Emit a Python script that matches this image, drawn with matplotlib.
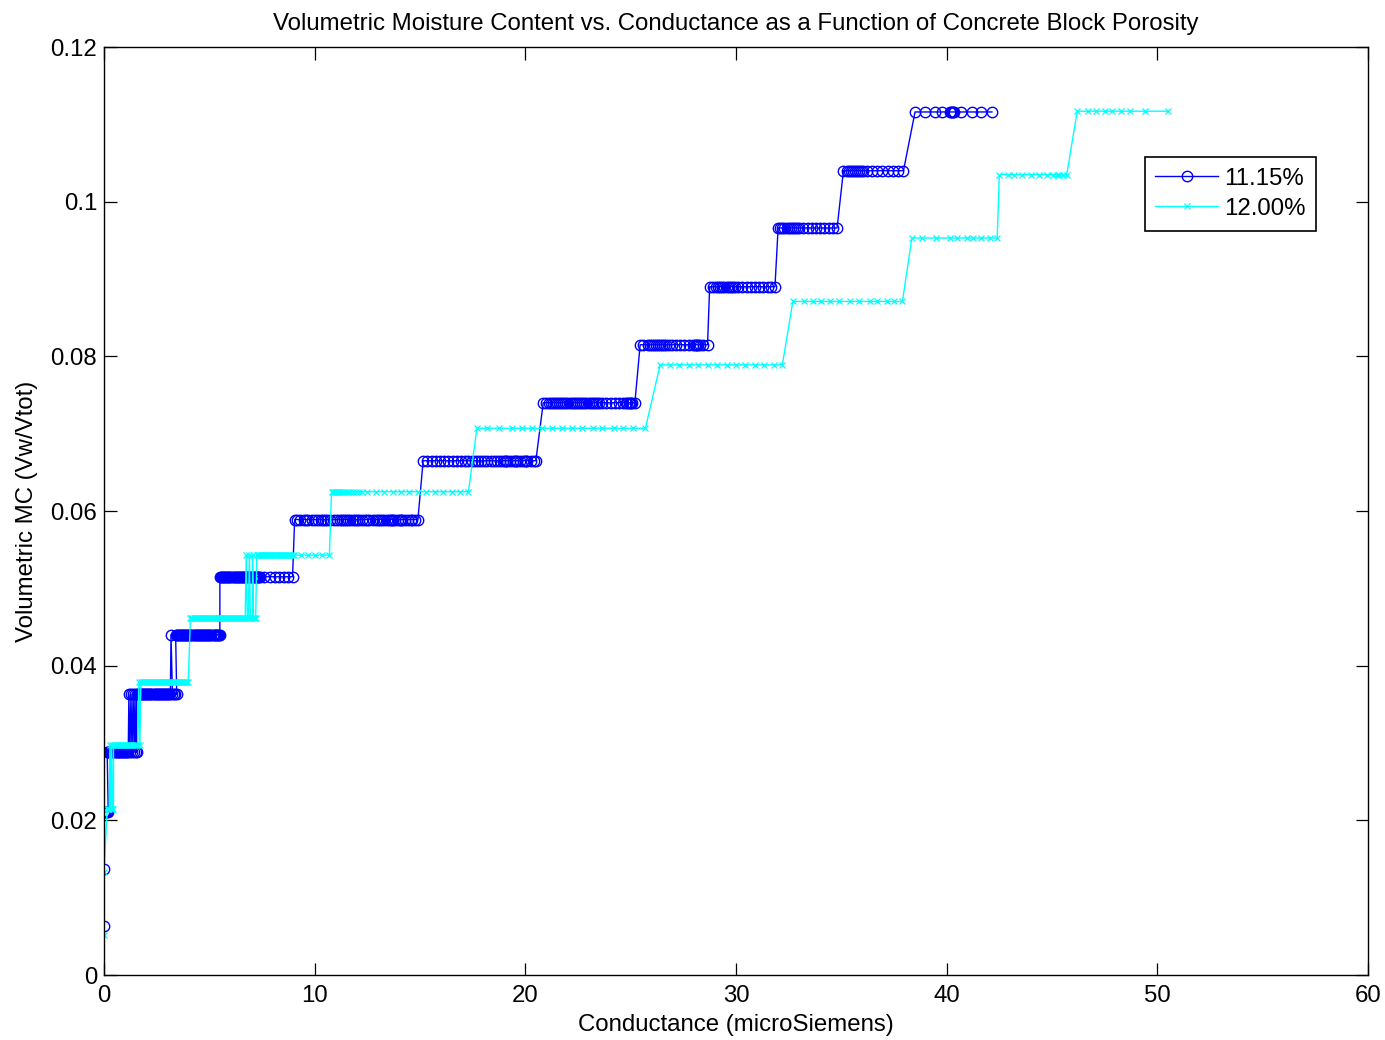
import matplotlib
matplotlib.use("Agg")
import matplotlib.pyplot as plt

plt.rcParams['font.family'] = ['Liberation Sans', 'DejaVu Sans']

# Each run is (moisture level, conductance readings taken at that level), in recording order
block_1115 = [
    (0.0063, [0.0]),
    (0.0137, [0.0]),
    (0.0211, [0.0, 0.05, 0.1, 0.15, 0.2]),
    (0.0288, [0.15, 0.2, 0.25, 0.3, 0.35, 0.4, 0.45, 0.5, 0.55, 0.6, 0.65, 0.7, 0.75,
              0.8, 0.85, 0.9, 0.95, 1.0, 1.05, 1.1, 1.15]),
    (0.0363, [1.18]), (0.0288, [1.23]), (0.0363, [1.28]), (0.0288, [1.33]),
    (0.0363, [1.38]), (0.0288, [1.43]), (0.0363, [1.47]), (0.0288, [1.51, 1.55]),
    (0.0363, [1.55, 1.6, 1.65, 1.7, 1.75, 1.8, 1.85, 1.9, 1.95, 2.0, 2.05, 2.1, 2.15,
              2.2, 2.25, 2.3, 2.35, 2.4, 2.45, 2.5, 2.55, 2.6, 2.65, 2.7, 2.75, 2.8,
              2.85, 2.9, 2.95, 3.0, 3.05, 3.1, 3.15]),
    (0.0440, [3.18]),
    (0.0363, [3.25, 3.3, 3.38, 3.45]),
    (0.0440, [3.4, 3.45, 3.5, 3.55, 3.6, 3.65, 3.7, 3.75, 3.8, 3.85, 3.9, 3.95, 4.0,
              4.05, 4.1, 4.15, 4.2, 4.25, 4.3, 4.35, 4.4, 4.45, 4.5, 4.55, 4.6, 4.65,
              4.7, 4.75, 4.8, 4.85, 4.9, 4.95, 5.0, 5.05, 5.1, 5.15, 5.2, 5.25, 5.3,
              5.35, 5.4, 5.45, 5.5]),
    (0.0515, [5.5, 5.55, 5.6, 5.65, 5.7, 5.75, 5.8, 5.85, 5.9, 5.95, 6.0, 6.05, 6.1,
              6.15, 6.2, 6.25, 6.3, 6.35, 6.4, 6.45, 6.5, 6.55, 6.6, 6.65, 6.7, 6.75,
              6.8, 6.85, 6.9, 6.95, 7.0, 7.05, 7.1, 7.15, 7.2, 7.25, 7.3, 7.35, 7.4,
              7.6, 7.9, 8.1, 8.3, 8.55, 8.75, 8.95]),
    (0.0589, [9.05, 9.15, 9.3, 9.5, 9.6, 9.7, 9.85, 10.0, 10.15, 10.3, 10.4, 10.5,
              10.6, 10.75, 10.9, 11.05, 11.2, 11.3, 11.4, 11.5, 11.6, 11.7, 11.8, 11.9,
              12.0, 12.1, 12.25, 12.4, 12.5, 12.6, 12.75, 12.9, 13.0, 13.1, 13.2, 13.3,
              13.45, 13.55, 13.6, 13.65, 13.7, 13.8, 13.95, 14.05, 14.1, 14.15, 14.3,
              14.45, 14.55, 14.6, 14.75, 14.9]),
    (0.0665, [15.15, 15.35, 15.55, 15.75, 15.95, 16.15, 16.35, 16.55, 16.75, 16.95,
              17.15, 17.3, 17.45, 17.6, 17.75, 17.9, 18.05, 18.2, 18.35, 18.5, 18.65,
              18.8, 18.95, 19.05, 19.1, 19.15, 19.25, 19.4, 19.5, 19.55, 19.6, 19.75,
              19.9, 20.0, 20.05, 20.1, 20.25, 20.4, 20.5]),
    (0.0740, [20.85, 21.0, 21.1, 21.2, 21.3, 21.4, 21.5, 21.6, 21.7, 21.8, 21.9, 22.0,
              22.1, 22.2, 22.3, 22.4, 22.5, 22.6, 22.7, 22.8, 22.9, 23.0, 23.1, 23.2,
              23.3, 23.4, 23.5, 23.65, 23.85, 24.05, 24.25, 24.45, 24.65, 24.8, 24.85,
              24.9, 24.95, 25.0, 25.05, 25.2]),
    (0.0815, [25.45, 25.6, 25.8, 25.9, 26.0, 26.1, 26.2, 26.3, 26.4, 26.5, 26.6, 26.7,
              26.8, 26.95, 27.15, 27.35, 27.55, 27.75, 27.95, 28.05, 28.1, 28.15, 28.2,
              28.3, 28.45, 28.65]),
    (0.0890, [28.75, 28.9, 29.05, 29.15, 29.25, 29.35, 29.45, 29.55, 29.65, 29.75,
              29.85, 29.95, 30.1, 30.3, 30.5, 30.7, 30.9, 31.1, 31.3, 31.5, 31.65, 31.85]),
    (0.0966, [32.0, 32.1, 32.2, 32.3, 32.4, 32.5, 32.6, 32.7, 32.8, 32.9, 33.0, 33.2,
              33.4, 33.6, 33.8, 34.0, 34.2, 34.4, 34.6, 34.8]),
    (0.1040, [35.1, 35.25, 35.35, 35.45, 35.55, 35.65, 35.75, 35.85, 35.95, 36.05,
              36.2, 36.45, 36.7, 36.95, 37.2, 37.45, 37.7, 37.95]),
    (0.1116, [38.5, 38.95, 39.45, 39.8, 40.15, 40.2, 40.25, 40.3, 40.35, 40.7, 41.2,
              41.65, 42.15]),
]

block_1200 = [
    (0.0052, [0.0]),
    (0.0133, [0.0]),
    (0.0215, [0.15, 0.2, 0.25]),
    (0.0297, [0.28]), (0.0215, [0.32]), (0.0297, [0.36]), (0.0215, [0.4, 0.45]),
    (0.0297, [0.45, 0.5, 0.55, 0.6, 0.65, 0.7, 0.75, 0.8, 0.85, 0.9, 0.95, 1.0, 1.05,
              1.1, 1.15, 1.2, 1.25, 1.3, 1.35, 1.4, 1.45, 1.5, 1.55, 1.6]),
    (0.0379, [1.65]), (0.0297, [1.7]),
    (0.0379, [1.75, 1.8, 1.85, 1.9, 1.95, 2.0, 2.05, 2.1, 2.15, 2.2, 2.25, 2.3, 2.35,
              2.4, 2.45, 2.5, 2.55, 2.6, 2.65, 2.7, 2.75, 2.8, 2.85, 2.9, 2.95, 3.0,
              3.05, 3.1, 3.15, 3.2, 3.25, 3.3, 3.35, 3.4, 3.45, 3.5, 3.55, 3.6, 3.65,
              3.7, 3.75, 3.8, 3.85, 3.9, 3.95, 4.0]),
    (0.0461, [4.1, 4.15, 4.2, 4.25, 4.3, 4.35, 4.4, 4.45, 4.5, 4.55, 4.6, 4.65, 4.7,
              4.75, 4.8, 4.85, 4.9, 4.95, 5.0, 5.05, 5.1, 5.15, 5.2, 5.25, 5.3, 5.35,
              5.4, 5.45, 5.5, 5.55, 5.6, 5.65, 5.7, 5.75, 5.8, 5.85, 5.9, 5.95, 6.0,
              6.05, 6.1, 6.15, 6.2, 6.25, 6.3, 6.35, 6.4, 6.45, 6.5, 6.55, 6.6, 6.65,
              6.7]),
    (0.0543, [6.75]), (0.0461, [6.8, 6.85]), (0.0543, [6.9]),
    (0.0461, [6.95, 7.0, 7.05]), (0.0543, [7.05]), (0.0461, [7.1, 7.15, 7.2]),
    (0.0543, [7.25, 7.3, 7.35, 7.4, 7.45, 7.5, 7.55, 7.6, 7.65, 7.7, 7.75, 7.8, 7.85,
              7.9, 7.95, 8.0, 8.05, 8.1, 8.15, 8.2, 8.25, 8.3, 8.35, 8.4, 8.45, 8.5,
              8.55, 8.6, 8.65, 8.7, 8.75, 8.8, 8.85, 8.9, 8.95, 9.0, 9.35, 9.7, 10.0,
              10.35, 10.7]),
    (0.0625, [10.8, 10.85, 10.9, 10.95, 11.0, 11.05, 11.1, 11.15, 11.2, 11.3, 11.4,
              11.5, 11.6, 11.7, 11.8, 11.95, 12.1, 12.25, 12.5, 12.9, 13.3, 13.7, 14.1,
              14.5, 14.9, 15.3, 15.7, 16.1, 16.5, 16.9, 17.3]),
    (0.0707, [17.7, 18.2, 18.75, 19.35, 19.85, 20.3, 20.8, 21.25, 21.75, 22.2, 22.7,
              23.2, 23.65, 24.2, 24.65, 25.1, 25.7]),
    (0.0789, [26.4, 26.85, 27.3, 27.75, 28.2, 28.65, 29.1, 29.55, 30.0, 30.45, 30.9,
              31.35, 31.8, 32.2]),
    (0.0871, [32.7, 33.25, 33.65, 34.05, 34.45, 34.9, 35.4, 35.85, 36.35, 36.7, 37.15,
              37.5, 37.9]),
    (0.0953, [38.35, 38.85, 39.5, 40.15, 40.5, 40.95, 41.25, 41.65, 42.05, 42.4]),
    (0.1035, [42.5, 42.9, 43.2, 43.6, 44.0, 44.4, 44.75, 45.05, 45.25, 45.35, 45.5,
              45.7]),
    (0.1117, [46.2, 46.7, 47.1, 47.5, 47.85, 48.3, 48.7, 49.4, 50.5]),
]

series_labels = ['11.15%', '12.00%']


def flatten(runs):
    xs, ys = [], []
    for level, readings in runs:
        xs.extend(readings)
        ys.extend([level] * len(readings))
    return xs, ys


x1, y1 = flatten(block_1115)
x2, y2 = flatten(block_1200)

fs = 17.3

fig = plt.figure(figsize=(13.85, 10.4), dpi=100)
ax = fig.add_axes([0.0751, 0.0625, 0.9126, 0.8923])

ax.plot(x1, y1, color='#0000ff', lw=1.0, marker='o', ms=7.5, mfc='none',
        mew=1.0, label=series_labels[0])
ax.plot(x2, y2, color='#00ffff', lw=1.0, marker='x', ms=5, mew=0.9,
        label=series_labels[1])

ax.set_xlim(0, 60)
ax.set_ylim(0, 0.12)
ax.set_xticks([0, 10, 20, 30, 40, 50, 60])
ax.set_yticks([0, 0.02, 0.04, 0.06, 0.08, 0.1, 0.12])
ax.set_yticklabels(['0', '0.02', '0.04', '0.06', '0.08', '0.1', '0.12'])

ax.tick_params(axis='both', direction='in', length=9, width=0.9, top=True, right=True,
               labelsize=fs, colors='black')
ax.tick_params(axis='x', pad=7)
ax.tick_params(axis='y', pad=5)
for sp in ax.spines.values():
    sp.set_linewidth(1.0)
    sp.set_color('black')

ax.set_title('Volumetric Moisture Content vs. Conductance as a Function of Concrete Block Porosity',
             fontsize=fs, pad=12)
ax.set_xlabel('Conductance (microSiemens)', fontsize=fs, labelpad=5)
ax.set_ylabel('Volumetric MC (Vw/Vtot)', fontsize=fs, labelpad=9)

leg = ax.legend(loc='upper right', bbox_to_anchor=(0.959, 0.8815), fontsize=fs,
                numpoints=1, handlelength=2.6, handletextpad=0.25, borderpad=0.45,
                labelspacing=0.33, fancybox=False, framealpha=1, borderaxespad=0)
leg.get_frame().set_edgecolor('black')
leg.get_frame().set_linewidth(1.2)

fig.savefig('out.png', dpi=100)
